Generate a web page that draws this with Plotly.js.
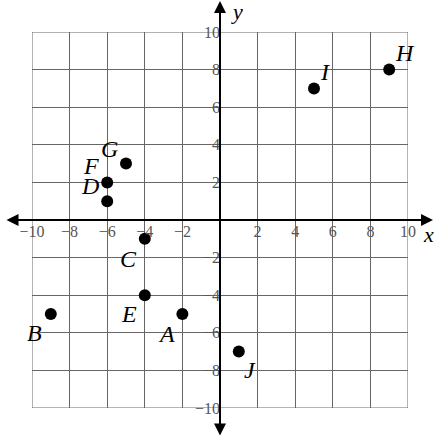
<!DOCTYPE html>
<html>
<head>
<meta charset="utf-8">
<script src="https://cdn.plot.ly/plotly-3.0.1.min.js"></script>
<style>
	html, body { margin: 0; padding: 0; background: #fff; }
	#plot { width: 435px; height: 438px; }
</style>
</head>
<body>
<div id="plot"></div>
<script>
(function () {

	'use strict';

	// points on the grid
	const names = ['A', 'B', 'C', 'D', 'E', 'F', 'G', 'H', 'I', 'J'];
	const xs = [-2, -9, -4, -6, -4, -6, -5, 9, 5, 1];
	const ys = [-5, -5, -1, 1, -4, 2, 3, 8, 7, -7];

	// tick labels (no zero), with a real minus sign
	const tickVals = [-10, -8, -6, -4, -2, 2, 4, 6, 8, 10];
	const tickText = tickVals.map( v => ( v < 0 ? '\u2212' : '' ) + Math.abs( v ));

	// a family list with commas is dropped here, so only one name
	const serif = 'Liberation Serif';

	// pixel nudge of each letter away from its dot [dx, dy(up)]
	const labelShift = [
		[-16, -20], [-16, -19], [-16, -20], [-17, 15], [-16, -19],
		[-16, 16], [-17, 15], [16, 17], [11, 16], [11, -18]
	];

	const points = {
		x: xs,
		y: ys,
		type: 'scatter',
		mode: 'markers',
		marker: { size: 12, color: '#000' },
		hoverinfo: 'skip',
		showlegend: false,
	};

	const axisBase = {
		range: [-10, 10],
		tickvals: tickVals,
		ticktext: tickText,
		showgrid: true,
		gridcolor: '#666',
		gridwidth: 1,
		zeroline: false,
		showline: false,
		ticks: '',
		anchor: 'free',
		position: 0.5,
		tickfont: { family: serif, size: 16, color: '#555' },
		fixedrange: true,
	};

	// both axes drawn as double-headed arrows
	const arrow = {
		text: '',
		showarrow: true,
		arrowside: 'end+start',
		arrowhead: 2,
		arrowsize: 1.2,
		arrowwidth: 2,
		arrowcolor: '#000',
		standoff: 0,
		startstandoff: 0,
		xref: 'paper',
		yref: 'paper',
		axref: 'pixel',
		ayref: 'pixel',
	};

	const axisLetter = {
		xref: 'paper',
		yref: 'paper',
		xanchor: 'center',
		yanchor: 'middle',
		showarrow: false,
		font: { family: serif, size: 22, color: '#000', style: 'italic' },
	};

	const letters = names.map(( n, i ) => ({
		text: n,
		x: xs[i],
		y: ys[i],
		xref: 'x',
		yref: 'y',
		xanchor: 'center',
		yanchor: 'middle',
		showarrow: false,
		xshift: labelShift[i][0],
		yshift: labelShift[i][1],
		font: { family: serif, size: 24, color: '#000', style: 'italic' },
	}));

	const layout = {
		width: 435,
		height: 438,
		margin: { l: 32, r: 27, t: 32, b: 30 },
		paper_bgcolor: '#fff',
		plot_bgcolor: '#fff',
		xaxis: Object.assign({}, axisBase),
		yaxis: Object.assign({}, axisBase),
		shapes: [
			// outer frame of the grid
			{ type: 'rect', xref: 'x', yref: 'y', x0: -10, x1: 10, y0: -10, y1: 10,
				line: { color: '#666', width: 1 }, layer: 'below' },
		],
		annotations: [
			Object.assign({}, arrow, { x: 1.0665, y: 0.5, ax: -428, ay: 0 }),
			Object.assign({}, arrow, { x: 0.5, y: 1.0824, ax: 0, ay: 436 }),
			Object.assign({}, axisLetter, { text: 'x', x: 1.055, y: 0.462 }),
			Object.assign({}, axisLetter, { text: 'y', x: 0.544, y: 1.054 }),
		].concat( letters ),
	};

	Plotly.newPlot( 'plot', [ points ], layout, { displayModeBar: false, staticPlot: true });

})();
</script>
</body>
</html>
